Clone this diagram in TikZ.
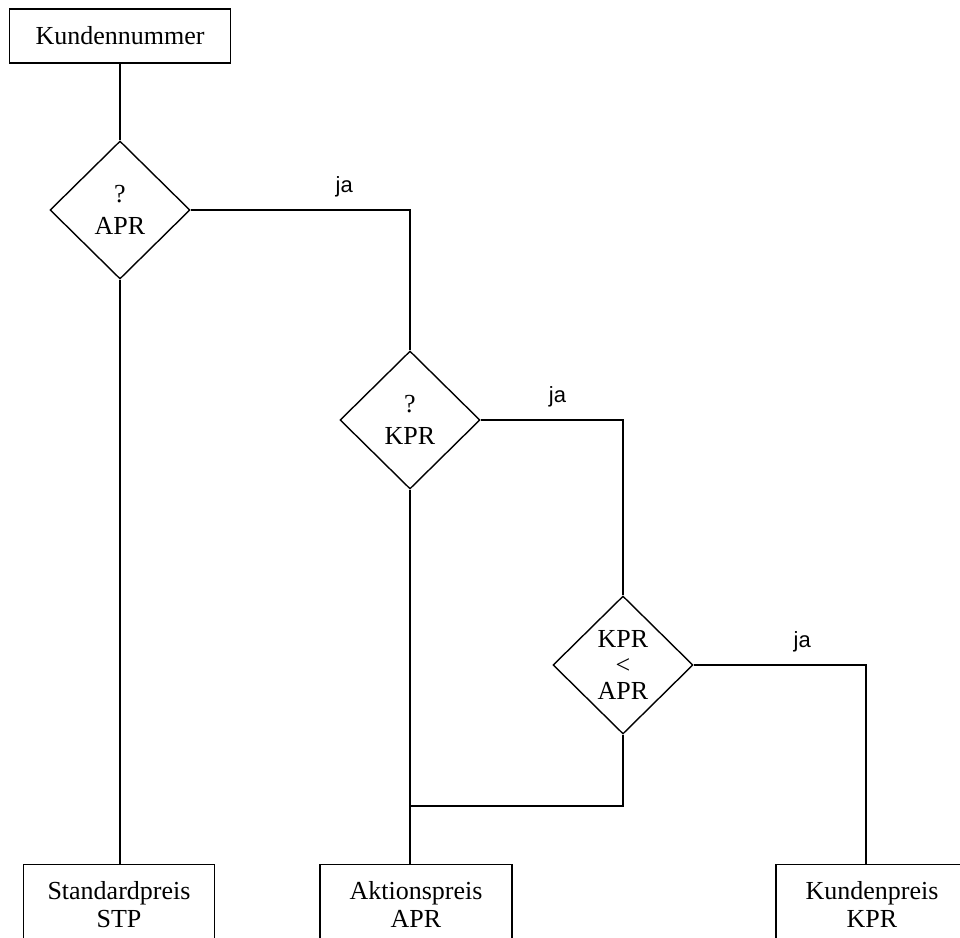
\documentclass[tikz,border=0pt]{standalone}
\usepackage{fontspec}
\setmainfont{Liberation Serif}
\newfontfamily\jafont{Liberation Sans}
\usetikzlibrary{shapes.geometric}

\begin{document}
\begin{tikzpicture}[x=1pt,y=-1pt]%
  \tikzstyle{boxn}=[rectangle,draw,line width=1.4pt,inner xsep=0pt,align=center,font=\fontsize{26}{28}\selectfont]
  \tikzstyle{diamn}=[diamond,draw,line width=1.4pt,minimum width=140pt,minimum height=138pt,inner sep=0pt,align=center,font=\fontsize{26}{32}\selectfont]
  \tikzstyle{jan}=[above=12pt,inner sep=0pt,font=\jafont\fontsize{22}{26}\selectfont]
  \tikzstyle{conn}=[line width=1.4pt]
  \useasboundingbox (0,0) rectangle (960,937);
  \clip (0,0) rectangle (960,937);
  \node(kn)[boxn,minimum width=221pt,minimum height=54pt] at (120,36) {Kundennummer};
  \node(q1)[diamn] at (120,210) {?\\APR};
  \node(q2)[diamn] at (410,420) {?\\KPR};
  \node(q3)[diamn,font=\fontsize{26}{26}\selectfont] at (623,665) {KPR\\<\\APR};
  \node(stp)[boxn,anchor=north,minimum width=191pt,inner ysep=17pt] at (119,864) {Standardpreis\\STP};
  \node(apr)[boxn,anchor=north,minimum width=192pt,inner ysep=17pt] at (416,864) {Aktionspreis\\APR};
  \node(kpr)[boxn,anchor=north,minimum width=192pt,inner ysep=17pt] at (872,864) {Kundenpreis\\KPR};
  \coordinate (join) at (q2.south |- 0,806);
  \draw[conn] (kn) -- (q1);
  \draw[conn] (q1.east) -- node[jan,pos=0.7]{ja} (q1.east -| q2.north) -- (q2.north);
  \draw[conn] (q2.east) -- node[jan,pos=0.54]{ja} (q2.east -| q3.north) -- (q3.north);
  \draw[conn] (q3.east) -- node[jan,pos=0.63]{ja} ([xshift=-6pt]q3.east -| kpr.north) -- ([xshift=-6pt]kpr.north);
  \draw[conn] (q1.south) -- (q1.south |- stp.north);
  \draw[conn] (q2.south) -- (q2.south |- apr.north);
  \draw[conn] (q3.south) |- (join);
\end{tikzpicture}
\end{document}
